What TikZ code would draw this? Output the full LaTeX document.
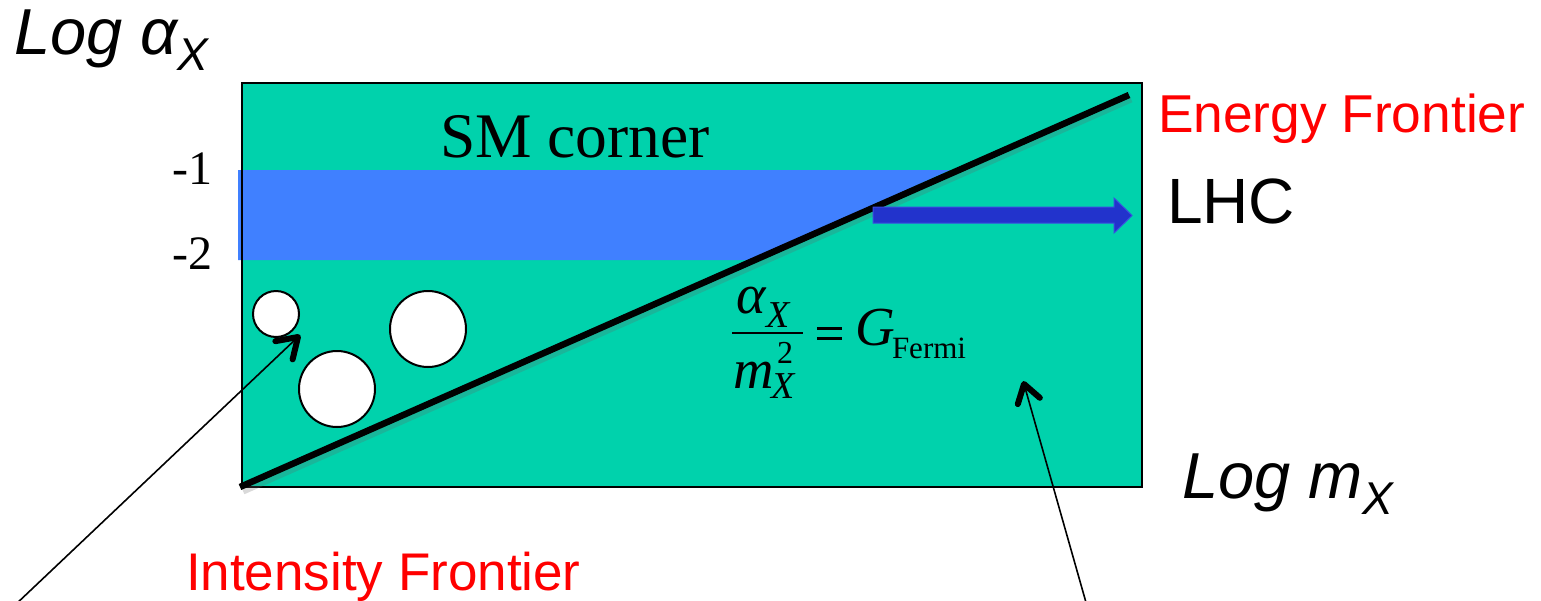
\documentclass[tikz,border=0pt]{standalone}
\usepackage{fontspec}
\setmainfont{Liberation Serif}
\newfontfamily\arial{Liberation Sans}
\usetikzlibrary{calc}
\definecolor{teal1}{HTML}{00D2AC}
\definecolor{band}{HTML}{4080FF}
\definecolor{arrowblue}{HTML}{2233CC}
\definecolor{arrowedge}{HTML}{3A4BE0}
\definecolor{redtxt}{HTML}{FF0000}
\newcommand{\fs}[1]{\fontsize{#1}{#1}\selectfont}
\tikzset{
  lbl/.style={inner sep=0pt, outer sep=0pt, anchor=base west},
  hole/.style={circle, draw=black, line width=2pt, fill=white, inner sep=0pt},
  pointer/.style={draw=black, line width=1.6pt},
  barb/.style={draw=black, line width=6pt, line cap=round, line join=round},
}
\begin{document}
\begin{tikzpicture}[x=1pt, y=-1pt]
\useasboundingbox (0,0) rectangle (1541,600);
% plot area
\fill[teal1] (242,83) rectangle (1142,487);
% blue band bounded by the line
\fill[band] (238,170) -- (950,170) -- (752,260) -- (238,260) -- cycle;
\draw[black, line width=2.5pt] (242,83) rectangle (1142,487);
% main line with faint shadow
\draw[black!60, opacity=0.25, line width=7pt] (243,491) -- (1131,99);
\draw[black, line width=6.5pt] (240,487) -- (1129,95);
% LHC arrow
\fill[arrowblue, draw=arrowedge, line width=1pt] (873,207) -- (1114,207) -- (1114,198) -- (1132,215.5) -- (1114,233) -- (1114,223) -- (873,223) -- cycle;
% circles
\node[hole, minimum size=46pt] (c1) at (276,314) {};
\node[hole, minimum size=76pt] (c2) at (428,329) {};
\node[hole, minimum size=76pt] (c3) at (337,389) {};
% texts
\node[lbl] (logy) at (14,54) {\arial\fs{65}\itshape Log α\raisebox{-0.25em}{\fs{46}X}};
\node[lbl] (logx) at (1182,498) {\arial\fs{65}\itshape Log m\raisebox{-0.25em}{\fs{46}X}};
\node[lbl, text=redtxt] (ef) at (1158,132) {\arial\fs{53.3}Energy Frontier};
\node[lbl] (lhc) at (1167,223) {\arial\fs{64}LHC};
\node[lbl, text=redtxt] (inf) at (186,590) {\arial\fs{53}Intensity Frontier};
\node[lbl] (sm) at (440,157) {\fs{63.5}SM corner};
\node[inner sep=0pt, anchor=base east] (m1) at (213,184) {\fs{48}-1};
\node[inner sep=0pt, anchor=base east] (m2) at (213,269) {\fs{48}-2};
% formula
\node[lbl] (al) at (736,313) {\fs{56}\itshape α};
\node[lbl] (alx) at (766,327) {\fs{38}\itshape X};
\draw[black, line width=2.2pt] (732,333) -- (803,333);
\node[lbl] (mm) at (733,388) {\fs{56}\itshape m};
\node[lbl] (two) at (777,363) {\fs{32}2};
\node[lbl] (mx) at (771,398) {\fs{38}\itshape X};
\draw[black, line width=3.5pt] (817,328.5) -- (842,328.5);
\draw[black, line width=3.5pt] (817,338.5) -- (842,338.5);
\node[lbl] (gg) at (855,345) {\fs{55}\itshape G};
\node[lbl] (fermi) at (892,358) {\fs{31}Fermi};
% pointers
\coordinate (p1s) at (14,606);
\coordinate (p1e) at (298,337);
\coordinate (p2s) at (1087,606);
\coordinate (p2e) at (1024,384);
\draw[pointer] (p1s) -- (p1e);
\draw[barb] ($(p1e)!23pt!33:(p1s)$) -- (p1e) -- ($(p1e)!23pt!-33:(p1s)$);
\draw[pointer] (p2s) -- (p2e);
\draw[barb] ($(p2e)!21pt!33:(p2s)$) -- (p2e) -- ($(p2e)!21pt!-33:(p2s)$);
\end{tikzpicture}
\end{document}
